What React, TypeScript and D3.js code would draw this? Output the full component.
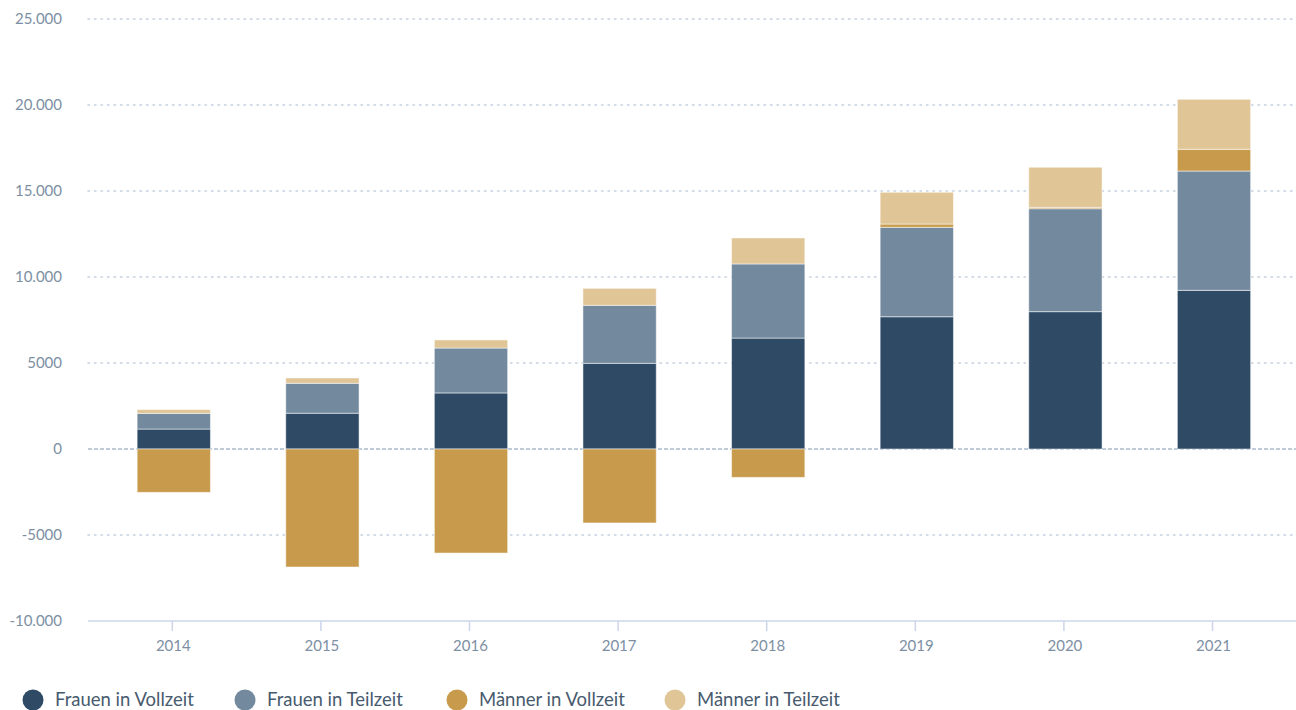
import React from "react";
import * as d3 from "d3";

const years = ["2014", "2015", "2016", "2017", "2018", "2019", "2020", "2021"];
const frauenVollzeit = [1160, 2080, 3260, 4980, 6450, 7690, 7985, 9225];
const frauenTeilzeit = [910, 1740, 2610, 3375, 4310, 5200, 5985, 6935];
const maennerVollzeit = [-2520, -6860, -6050, -4300, -1650, 190, 80, 1265];
const maennerTeilzeit = [220, 310, 470, 985, 1510, 1845, 2330, 2905];
const yTicks = [25000, 20000, 15000, 10000, 5000, 0, -5000, -10000];
const yTickLabels = ["25.000", "20.000", "15.000", "10.000", "5000", "0", "-5000", "-10.000"];

const seriesNames = ["Frauen in Vollzeit", "Frauen in Teilzeit", "Männer in Vollzeit", "Männer in Teilzeit"];
const seriesColors = ["#2e4a65", "#738a9e", "#c89b4c", "#e0c597"];
const seriesData = [frauenVollzeit, frauenTeilzeit, maennerVollzeit, maennerTeilzeit];

const W = 1296;
const H = 710;
const plotLeft = 88;
const plotRight = 1296;

export default function App() {
  const x = d3.scaleBand<string>().domain(years).range([99.5, 99.5 + 148.6 * 8]).paddingInner(0).paddingOuter(0);
  const y = d3.scaleLinear().domain([-10000, 25000]).range([621, 19]);
  const barW = 73.3;

  const rects: { key: string; x: number; y0: number; y1: number; color: string }[] = [];
  years.forEach((yr, i) => {
    let pos = 0;
    let neg = 0;
    seriesData.forEach((s, k) => {
      const v = s[i];
      let a: number, b: number;
      if (v >= 0) {
        a = pos;
        b = pos + v;
        pos = b;
      } else {
        a = neg;
        b = neg + v;
        neg = b;
      }
      rects.push({ key: yr + "-" + k, x: (x(yr) as number) + x.step() / 2 - barW / 2, y0: a, y1: b, color: seriesColors[k] });
    });
  });

  const legendX = [33, 245, 457, 675];
  const font = "Lato, 'Source Sans Pro', sans-serif";

  return (
    <svg width={W} height={H} style={{ position: "absolute", left: 0, top: 0, background: "#fff" }}>
      {yTicks.map((t) =>
        t === 0 || t === -10000 ? null : (
          <line key={"g" + t} x1={plotLeft} x2={plotRight} y1={y(t)} y2={y(t)} stroke="#c3d0df" strokeWidth={1.5} strokeDasharray="1.5 5" strokeLinecap="round" />
        )
      )}
      <line x1={plotLeft} x2={plotRight} y1={y(0)} y2={y(0)} stroke="#7f98b3" strokeWidth={1} strokeDasharray="4 2" />
      {yTicks.map((t, i) => (
        <text key={"yl" + t} x={62} y={y(t)} dy="0.35em" textAnchor="end" fontFamily={font} fontSize={15} fill="#7d8fa3">
          {yTickLabels[i]}
        </text>
      ))}
      {rects.map((r) => (
        <rect key={r.key} x={r.x} width={barW} y={y(Math.max(r.y0, r.y1))} height={Math.abs(y(r.y0) - y(r.y1))} fill={r.color} stroke="#ffffff" strokeOpacity={0.5} strokeWidth={1} />
      ))}
      <line x1={plotLeft} x2={plotRight} y1={y(-10000)} y2={y(-10000)} stroke="#ccd6eb" strokeWidth={1.5} />
      {years.map((yr) => {
        const cx = (x(yr) as number) + x.step() / 2 - 1.5;
        return (
          <g key={"xt" + yr}>
            <line x1={cx} x2={cx} y1={y(-10000)} y2={y(-10000) + 10} stroke="#ccd6eb" strokeWidth={1.5} />
            <text x={cx + 1} y={646} dy="0.35em" textAnchor="middle" fontFamily={font} fontSize={15} fill="#7d8fa3">
              {yr}
            </text>
          </g>
        );
      })}
      {seriesNames.map((n, i) => (
        <g key={"lg" + i}>
          <circle cx={legendX[i]} cy={700} r={10.5} fill={seriesColors[i]} />
          <text x={legendX[i] + 22} y={700} dy="0.35em" fontFamily={font} fontSize={18.5} fill="#475a6e">
            {n}
          </text>
        </g>
      ))}
    </svg>
  );
}
